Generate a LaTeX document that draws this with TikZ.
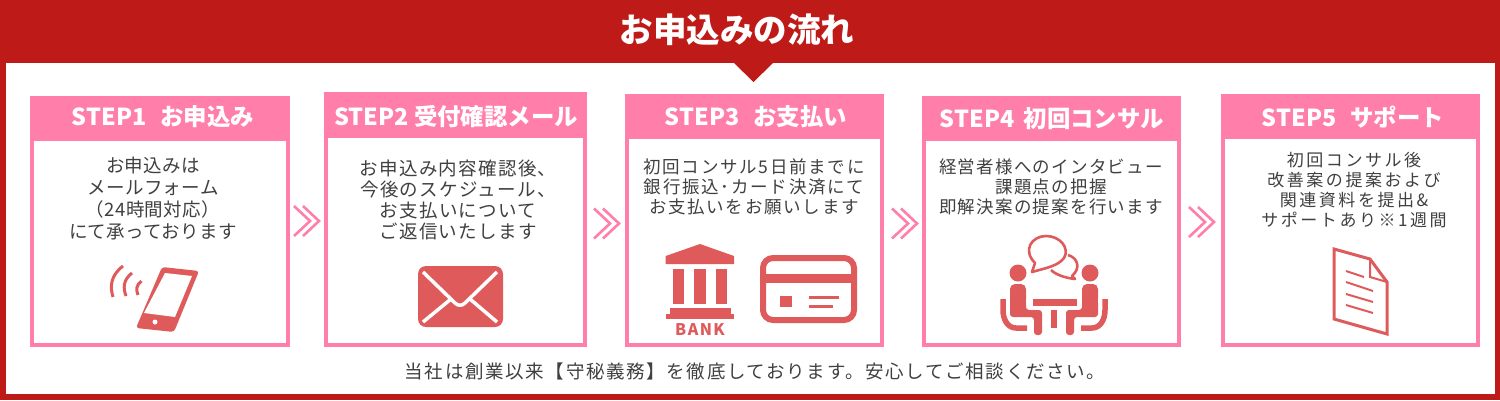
\documentclass[tikz,border=0pt]{standalone}
\usepackage{fontspec}
\setmainfont{Noto Sans CJK JP}
\definecolor{framered}{HTML}{BE1A18}
\definecolor{steppink}{HTML}{FF7FAA}
\definecolor{iconred}{HTML}{DF5B5B}
\definecolor{bodygray}{HTML}{404040}
\newcommand{\stepframe}[5]{%
    \fill[steppink] (#1, #2) rectangle (#3, #4);
    \fill[white] (#1+4, #5) rectangle (#3-4, #4-4);
}
\newcommand{\dchev}[2]{%
    \draw[chevline] (#1, #2-15) -- ++(16, 15) -- ++(-16, 15);
    \draw[chevline] (#1+9, #2-15) -- ++(16, 15) -- ++(-16, 15);
}
\tikzset{
    chevline/.style={steppink, line width=2.6pt},
    iconline/.style={iconred, line width=3pt},
    headtext/.style={text=white, font=\fontsize{23.4}{26}\selectfont\bfseries, inner sep=0pt},
    bodytext/.style={text=bodygray, align=center, inner sep=0pt, font=\fontsize{17.5}{21}\selectfont},
}

\begin{document}
\begin{tikzpicture}[x=1pt, y=-1pt]
    \useasboundingbox (0, 0) rectangle (1500, 400);

    % frame and title
    \fill[framered] (0, 0) rectangle (1500, 400);
    \fill[white] (6, 63) rectangle (1495, 394);
    \fill[framered] (734, 63) -- (773, 63) -- (753.5, 82) -- cycle;
    \node[text=white, inner sep=0pt, font=\fontsize{33.5}{36}\selectfont\bfseries] (title) at (737, 30) {お申込みの流れ};

    % step boxes
    \stepframe{30}{96}{290}{347}{141}
    \stepframe{324}{92}{587}{347}{138}
    \stepframe{625}{94}{884}{347}{139}
    \stepframe{922}{96}{1181}{347}{141}
    \stepframe{1221}{94}{1480}{347}{139}

    \node[headtext] (heada) at (163, 117) {STEP1\hspace{0.6em}お申込み};
    \node[headtext] (headb) at (456, 117) {STEP2 受付確認メール};
    \node[headtext] (headc) at (756, 117) {STEP3\hspace{0.6em}お支払い};
    \node[headtext] (headd) at (1052, 119) {STEP4\hspace{0.4em}初回コンサル};
    \node[headtext] (heade) at (1353, 117) {STEP5\hspace{0.6em}サポート};

    \node[bodytext, font=\fontsize{18.5}{22}\selectfont\addfontfeature{LetterSpace=2}] (bodya) at (153, 198.5) {お申込みは\\メールフォーム\\（24時間対応）\\にて承っております};
    \node[bodytext, font=\fontsize{18.5}{21.3}\selectfont\addfontfeature{LetterSpace=7}] (bodyb) at (458, 200) {お申込み内容確認後、\\今後のスケジュール、\\お支払いについて\\ご返信いたします};
    \node[bodytext, font=\fontsize{17.5}{20}\selectfont\addfontfeature{LetterSpace=10}] (bodyc) at (754, 187) {初回コンサル5日前までに\\銀行振込･カード決済にて\\お支払いをお願いします};
    \node[bodytext, font=\fontsize{17.5}{20}\selectfont\addfontfeature{LetterSpace=7}] (bodyd) at (1051, 187) {経営者様へのインタビュー\\課題点の把握\\即解決案の提案を行います};
    \node[bodytext, font=\fontsize{17}{20.3}\selectfont\addfontfeature{LetterSpace=15}] (bodye) at (1354, 190) {初回コンサル後\\改善案の提案および\\関連資料を提出\&\\サポートあり※1週間};

    \node[bodytext, font=\fontsize{18.5}{22}\selectfont\addfontfeature{LetterSpace=9}] (note) at (755, 371) {当社は創業以来【守秘義務】を徹底しております。安心してご相談ください。};

    % arrows between the boxes
    \dchev{294}{221}
    \dchev{594}{223.5}
    \dchev{892}{223.5}
    \dchev{1189}{222}

    % phone
    \fill[iconred, rounded corners=3pt] (162, 267) -- (199, 271) -- (174, 332) -- (136, 328) -- cycle;
    \fill[white] (165, 273) -- (192, 276) -- (175, 317) -- (144, 313) -- cycle;
    \fill[white] (155, 322) circle (2.5);
    \draw[iconline] (123, 266) .. controls (110, 276) and (110, 287) .. (113, 297);
    \draw[iconline] (132, 273) .. controls (123, 280) and (123, 288) .. (126, 296);
    \draw[iconline] (141.5, 281) .. controls (136, 285) and (136, 290) .. (138, 295);

    % envelope
    \fill[iconred, rounded corners=8pt] (418, 266) rectangle (503, 327);
    \draw[white, line width=3.5pt] (423, 272) -- (455, 303) .. controls (458, 306) and (462, 306) .. (465, 303) -- (497, 272);
    \draw[white, line width=3.5pt] (423, 322) -- (451, 299) (497, 322) -- (470, 299);

    % bank
    \fill[iconred] (700, 244) -- (734, 256) -- (734, 264) -- (665.7, 264) -- (665.7, 256) -- cycle;
    \fill[iconred] (672.7, 269) rectangle (684, 304);
    \fill[iconred] (694.3, 269) rectangle (705.7, 304);
    \fill[iconred] (715.7, 269) rectangle (727, 304);
    \fill[iconred] (670, 308) rectangle (730.7, 314);
    \fill[iconred] (665.7, 314) rectangle (734.3, 319);
    \node[text=iconred, inner sep=0pt, font=\fontsize{16}{18}\selectfont\bfseries\addfontfeature{LetterSpace=9}] (banklabel) at (700, 330) {BANK};

    % card
    \draw[iconred, line width=6pt, rounded corners=10pt] (763, 258) rectangle (854, 320);
    \fill[iconred] (760, 274) rectangle (857, 283);
    \fill[iconred] (780, 295.7) rectangle (791.7, 306.7);
    \fill[iconred] (809, 295.7) rectangle (839, 299);
    \fill[iconred] (809, 304.7) rectangle (833, 308);

    % two people at a table
    \draw[iconred, line width=2.6pt, line join=round] (1032, 272) -- (1035, 263) .. controls (1022, 250) and (1032, 236) .. (1046, 236) .. controls (1060, 236) and (1070, 248) .. (1064, 258) .. controls (1058, 266) and (1046, 268) .. cycle;
    \draw[iconred, line width=2.6pt, line join=round] (1068, 255) .. controls (1078, 258) and (1081, 268) .. (1072, 276) -- (1075, 279) .. controls (1066, 278) and (1056, 275) .. (1051, 270);
    \fill[iconred] (1018, 273) circle (8.5);
    \fill[iconred] (1090, 273) circle (8.5);
    \fill[iconred, rounded corners=5pt] (1010, 284) -- (1026, 284) -- (1026, 304) -- (1010, 304) -- cycle;
    \fill[iconred] (1010, 294) rectangle (1026, 310);
    \fill[iconred, rounded corners=3pt] (1010, 300) -- (1010, 317) -- (1034, 317) -- (1034, 335) -- (1042, 335) -- (1042, 310) -- (1026, 310) -- (1026, 300) -- cycle;
    \fill[iconred, rounded corners=5pt] (1082, 284) -- (1098, 284) -- (1098, 304) -- (1082, 304) -- cycle;
    \fill[iconred] (1082, 294) rectangle (1098, 310);
    \fill[iconred, rounded corners=3pt] (1098, 300) -- (1098, 317) -- (1074, 317) -- (1074, 335) -- (1066, 335) -- (1066, 310) -- (1082, 310) -- (1082, 300) -- cycle;
    \fill[iconred] (1033, 299) rectangle (1077, 306);
    \fill[iconred] (1051, 310) rectangle (1057, 328);
    \draw[iconred, line width=5.5pt] (1003, 299) -- (1003, 310) .. controls (1003, 320) and (1008, 328) .. (1016, 328) -- (1027, 328);
    \draw[iconred, line width=5.5pt] (1105, 299) -- (1105, 310) .. controls (1105, 320) and (1100, 328) .. (1092, 328) -- (1081, 328);

    % document
    \draw[iconline, line join=miter] (1334, 249) -- (1370, 259) -- (1387, 282) -- (1387, 334) -- (1334, 319) -- cycle;
    \draw[iconred, line width=2pt] (1370, 259) -- (1370, 277) -- (1387, 282);
    \draw[iconred, line width=2pt] (1346, 271) -- (1364, 277);
    \draw[iconred, line width=2pt] (1346, 282) -- (1373, 291);
    \draw[iconred, line width=2pt] (1346, 294) -- (1373, 302);
    \draw[iconred, line width=2pt] (1346, 305) -- (1373, 313);
\end{tikzpicture}
\end{document}
